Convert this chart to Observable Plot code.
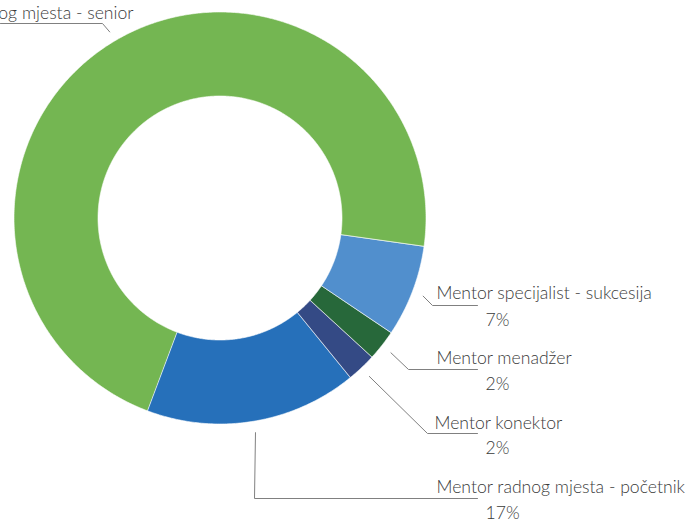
<!DOCTYPE html>
<html>
<head>
<meta charset="utf-8">
<script src="https://cdn.jsdelivr.net/npm/d3@7"></script>
<script src="https://cdn.jsdelivr.net/npm/@observablehq/plot@0.6"></script>
<style>
  html, body { margin: 0; padding: 0; background: #ffffff; }
  #chart svg { display: block; }
</style>
</head>
<body>
<div id="chart"></div>
<script>
// ---- data ----
const categories = [
  "Mentor radnog mjesta - senior",
  "Mentor specijalist - sukcesija",
  "Mentor menadžer",
  "Mentor konektor",
  "Mentor radnog mjesta - početnik"
];
const values = [71.5, 7.2, 2.4, 2.3, 16.6];
const percentLabels = ["72%", "7%", "2%", "2%", "17%"];
const colors = ["#74B652", "#518FCD", "#27683A", "#344A85", "#2670BA"];

// ---- layout (pixels) ----
const W = 693, H = 521;
const cx = 220, cy = 218, R = 206, r = 122;
const startDeg = 200.6;
// leader elbow / end points and text anchors per slice
const elbows = [[102, 23], [432, 305], [408, 369], [427, 433], [254, 498]];
const ends = [[0, 23], [477, 305], [477, 369], [477, 433], [477, 498]];
const nameAnchors = [[133, 18, "end"], [436, 298, "start"], [436, 363, "start"], [434, 428, "start"], [436, 492, "start"]];
const pctAnchors = [null, [485, 325], [485, 389], [485, 453], [485, 518]];

const pie = d3.pie().sort(null).value(d => d)
  .startAngle(startDeg * Math.PI / 180)
  .endAngle(startDeg * Math.PI / 180 + 2 * Math.PI);
const arcs = pie(values);

const ringPts = [];
arcs.forEach((a, i) => {
  const n = Math.max(8, Math.ceil((a.endAngle - a.startAngle) / (Math.PI / 360)));
  for (let k = 0; k <= n; k++) {
    const t = a.startAngle + (a.endAngle - a.startAngle) * k / n;
    ringPts.push({
      cat: categories[i],
      xo: cx + R * Math.sin(t), yo: cy - R * Math.cos(t),
      xi: cx + r * Math.sin(t), yi: cy - r * Math.cos(t)
    });
  }
});

const leaders = [];
arcs.forEach((a, i) => {
  const m = (a.startAngle + a.endAngle) / 2;
  const p0 = [cx + (R + 11) * Math.sin(m), cy - (R + 11) * Math.cos(m)];
  [p0, elbows[i], ends[i]].forEach(p => leaders.push({cat: categories[i], x: p[0], y: p[1]}));
});

const nameLabels = categories.map((c, i) => ({text: c, x: nameAnchors[i][0], y: nameAnchors[i][1], anchor: nameAnchors[i][2]}));
const pctLabels = percentLabels.map((p, i) => pctAnchors[i] ? {text: p, x: pctAnchors[i][0], y: pctAnchors[i][1]} : null).filter(d => d);

const font = {fontFamily: "Lato, 'Open Sans', sans-serif", fontSize: 17.6, fontWeight: 300, fill: "#3a3a3a", lineAnchor: "bottom"};

const chart = Plot.plot({
  width: W,
  height: H,
  margin: 0,
  x: {domain: [0, W], range: [0, W], axis: null},
  y: {domain: [0, H], range: [0, H], axis: null},
  color: {domain: categories, range: colors},
  style: {background: "#ffffff", overflow: "visible"},
  marks: [
    Plot.area(ringPts, {x1: "xi", y1: "yi", x2: "xo", y2: "yo", z: "cat", fill: "cat", stroke: "#ffffff", strokeWidth: 0.6, curve: "linear"}),
    Plot.line(leaders, {x: "x", y: "y", z: "cat", stroke: "#808080", strokeWidth: 1}),
    Plot.text(nameLabels.filter(d => d.anchor === "start"), {x: "x", y: "y", text: "text", textAnchor: "start", ...font}),
    Plot.text(nameLabels.filter(d => d.anchor === "end"), {x: "x", y: "y", text: "text", textAnchor: "end", ...font}),
    Plot.text(pctLabels, {x: "x", y: "y", text: "text", textAnchor: "start", ...font})
  ]
});
document.getElementById("chart").appendChild(chart);
</script>
</body>
</html>
